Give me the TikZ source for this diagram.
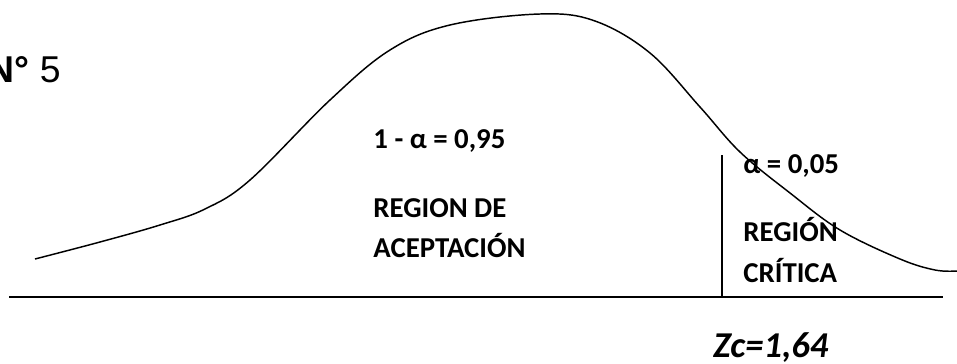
\documentclass[tikz,border=0pt]{standalone}
\usepackage{fontspec}
\setmainfont{Carlito}
\newfontfamily\arialfont{Liberation Sans}
\usetikzlibrary{positioning}

\begin{document}
\begin{tikzpicture}[x=0.75pt,y=-0.75pt,semithick]
  \tikzstyle{lbl}=[inner sep=0pt,anchor=base west,font=\fontsize{21.6}{24}\selectfont\bfseries]
  \tikzstyle{zlbl}=[inner sep=0pt,anchor=base west,font=\fontsize{27.3}{30}\selectfont\bfseries\itshape]
  \tikzstyle{curve}=[line width=1.1pt,line join=round]
  \useasboundingbox (0,0) rectangle (957,364);

  % eje y corte
  \coordinate (ejeA) at (9,297);
  \coordinate (ejeB) at (943,297);
  \coordinate (corte) at (722,155);
  \coordinate (pie) at (722,297);

  \draw[line width=1.3pt] (ejeA) -- (ejeB);
  \draw[line width=1.1pt] (pie) -- (corte);

  % campana
  \draw[curve] plot[smooth,tension=0.6] coordinates {
    (35,259) (100,242) (160,225) (205,209) (250,180)
    (330,100) (390,50) (450,25) (540,14) (595,21) (650,53)
    (700,107) (740,152) (790,193) (840,230) (900,259) (935,270) (957,271)};

  \node[inner sep=0pt,anchor=base east,font=\arialfont\fontsize{28}{32}\selectfont]
    (num) at (61,82) {\textbf{N°} 5};

  \node[lbl] (conf)   at (373,148) {1 - α = 0,95};
  \node[lbl] (acep1)  at (373,217) {REGION DE};
  \node[lbl] (acep2)  at (373,257) {ACEPTACIÓN};
  \node[lbl] (alfa)   at (743,173) {α = 0,05};
  \node[lbl] (crit1)  at (743,241) {REGIÓN};
  \node[lbl] (crit2)  at (743,282) {CRÍTICA};
  \node[zlbl] (zc)    at (713,357) {Zc=1,64};
\end{tikzpicture}
\end{document}
